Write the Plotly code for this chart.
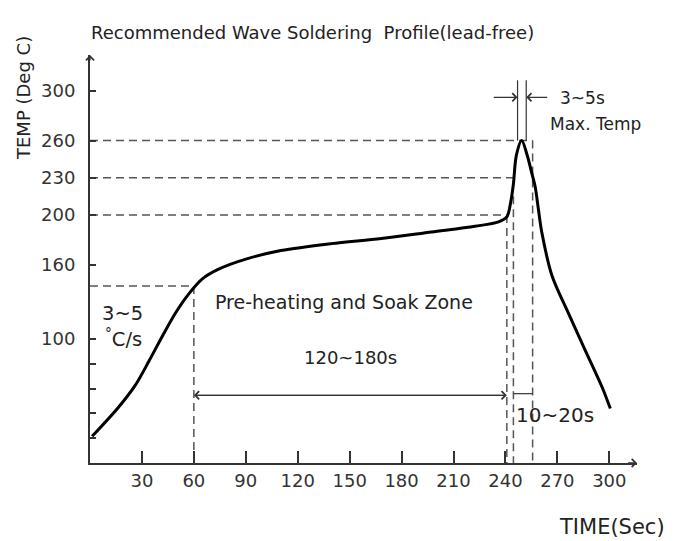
import plotly.graph_objects as go

# ---- data ----
time_s = [1.2, 16.6, 26.3, 34.0, 41.7, 49.4, 57.2, 64.9, 74.6, 91.0, 110.3, 139.3,
          168.3, 197.3, 222.4, 236.0, 240.8, 243.0, 244.6, 246.3, 249.4, 252.6, 255.0,
          257.2, 259.0, 261.0, 266.9, 276.5, 286.1, 295.8, 300.6]
temp_c = [21.5, 45.2, 63.0, 82.0, 102.0, 121.0, 136.6, 148.5, 156.5, 164.8, 171.3, 176.9,
          181.0, 186.3, 190.9, 194.4, 198.4, 210.0, 225.0, 248.0, 260.0, 248.0, 235.0,
          222.6, 205.0, 186.0, 151.0, 120.5, 90.9, 61.3, 43.9]

x_tickvals = [30, 60, 90, 120, 150, 180, 210, 240, 270, 300]
x_ticktext = ["30", "60", "90", "120", "150", "180", "210", "240", "270", "300"]
y_tickvals = [20, 40, 60, 80, 100, 160, 200, 230, 260, 300]
y_ticktext = ["", "", "", "", "100", "160", "200", "230", "260", "300"]

# reference (dashed) levels and times
level_ramp, level_soak, level_230, level_peak = 142.7, 200, 230, 260
t_ramp_end, t_soak_end, t_230, t_peak_end = 60, 240.8, 244.6, 255.7
t_peak_a, t_peak_b = 247.0, 252.0          # 3~5s window
y_window_top, y_window_arrow = 308.6, 294.9
y_soak_arrow, y_wet_arrow = 54.6, 55.9

X_MAX, Y_MAX = 316, 329

FONT = "DejaVu Sans, Arial, sans-serif"
GRAY = "#555555"
DASH = "8px,5px"

fig = go.Figure()
fig.add_trace(go.Scatter(x=time_s, y=temp_c, mode="lines",
                         line=dict(color="black", width=3, shape="spline", smoothing=0.9),
                         hoverinfo="skip", showlegend=False))

shapes = []
def dline(x0, y0, x1, y1, dash=DASH, color=GRAY, width=1.5):
    shapes.append(dict(type="line", xref="x", yref="y", x0=x0, y0=y0, x1=x1, y1=y1,
                       line=dict(color=color, width=width, dash=dash), layer="below"))

# horizontal dashed
dline(0, level_ramp, t_ramp_end, level_ramp)
dline(0, level_soak, t_soak_end + 1, level_soak)
dline(0, level_230, t_230, level_230)
dline(0, level_peak, t_peak_end, level_peak)
# vertical dashed
dline(t_ramp_end, level_ramp, t_ramp_end, 0)
dline(t_soak_end, level_soak, t_soak_end, 0)
dline(t_230, level_230 - 15, t_230, 0)
dline(t_peak_end, level_peak, t_peak_end, 0)
# solid window lines for 3~5s
dline(t_peak_a, level_peak, t_peak_a, y_window_top, dash="solid", color="#333", width=1.2)
dline(t_peak_b, level_peak, t_peak_b, y_window_top, dash="solid", color="#333", width=1.2)
# 10~20s bracket
dline(t_230, y_wet_arrow, t_peak_end, y_wet_arrow, dash="solid", color="#333", width=1.2)

annotations = []
def arrow(x, y, ax, ay, head=4):
    annotations.append(dict(x=x, y=y, ax=ax, ay=ay, xref="x", yref="y", axref="x", ayref="y",
                            showarrow=True, arrowhead=head, arrowsize=1.2, arrowwidth=1.3,
                            arrowcolor="#333", text=" ", startstandoff=0,
                            font=dict(size=1)))

# axis arrows
arrow(X_MAX, 0, X_MAX - 6, 0)
arrow(0, Y_MAX, 0, Y_MAX - 6)
# 120~180s double arrow (two overlapping full-length arrows)
arrow(t_ramp_end, y_soak_arrow, t_soak_end, y_soak_arrow)
arrow(t_soak_end, y_soak_arrow, t_ramp_end, y_soak_arrow)
# 3~5s arrows
arrow(t_peak_a, y_window_arrow, 232.4, y_window_arrow)
arrow(t_peak_b, y_window_arrow, 265.0, y_window_arrow)

def text(x, y, s, size=17, xanchor="center"):
    annotations.append(dict(x=x, y=y, xref="x", yref="y", text=s, showarrow=False,
                            xanchor=xanchor, yanchor="middle",
                            font=dict(family=FONT, size=size, color="#222")))

text(18.5, 120.7, "3~5", size=19.5)
text(19.5, 100.5, "<sup style='font-size:9px'>°</sup>C/s", size=19.5)
text(147.0, 129.6, "Pre-heating and Soak Zone", size=19)
text(150.5, 85, "120~180s", size=18)
text(244.9, 38.5, "10~20s", size=20, xanchor="left")
text(270.1, 294.5, "3~5s", size=17, xanchor="left")
text(264.5, 273.5, "Max. Temp", size=17, xanchor="left")

# page has an 8px body margin: figure sized to fit the 675x541 window
W, H = 667, 533
ML, MT = 82, 47
PW, PH = 547, 408
fig.update_layout(
    width=W, height=H,
    margin=dict(l=ML, r=W - ML - PW, t=MT, b=H - MT - PH, autoexpand=False),
    paper_bgcolor="white", plot_bgcolor="white",
    showlegend=False,
    shapes=shapes,
    annotations=annotations,
    font=dict(family=FONT, color="#333"),
    xaxis=dict(range=[0, X_MAX], showgrid=False, zeroline=False,
               showline=True, linecolor="#333", linewidth=2,
               ticks="inside", ticklen=12, tickwidth=1.5, tickcolor="#333",
               tickvals=x_tickvals, ticktext=x_ticktext,
               tickfont=dict(family=FONT, size=18, color="#333")),
    yaxis=dict(range=[0, Y_MAX], showgrid=False, zeroline=False,
               showline=True, linecolor="#333", linewidth=2,
               ticks="inside", ticklen=6, tickwidth=1.5, tickcolor="#333",
               tickvals=y_tickvals, ticktext=y_ticktext, ticklabelstandoff=9,
               tickfont=dict(family=FONT, size=18, color="#333")),
)

# page-pixel helpers (plot left = page 90, plot bottom = page 463)
def px(xp):
    return (xp - 90) / PW
def py(yp):
    return (463 - yp) / PH

fig.add_annotation(x=px(89), y=py(33), xref="paper", yref="paper",
                   text="Recommended Wave Soldering\u00a0\u00a0Profile(lead-free)",
                   showarrow=False, xanchor="left", yanchor="middle",
                   font=dict(family=FONT, size=18, color="#222"))
fig.add_annotation(x=px(24), y=py(98), xref="paper", yref="paper",
                   text="TEMP (Deg C)", textangle=-90, showarrow=False,
                   xanchor="center", yanchor="middle",
                   font=dict(family=FONT, size=18, color="#222"))
fig.add_annotation(x=px(667), y=py(527), xref="paper", yref="paper",
                   text="TIME(Sec)", showarrow=False, xanchor="right", yanchor="middle",
                   font=dict(family=FONT, size=21, color="#222"))

fig.write_html("out.html")
